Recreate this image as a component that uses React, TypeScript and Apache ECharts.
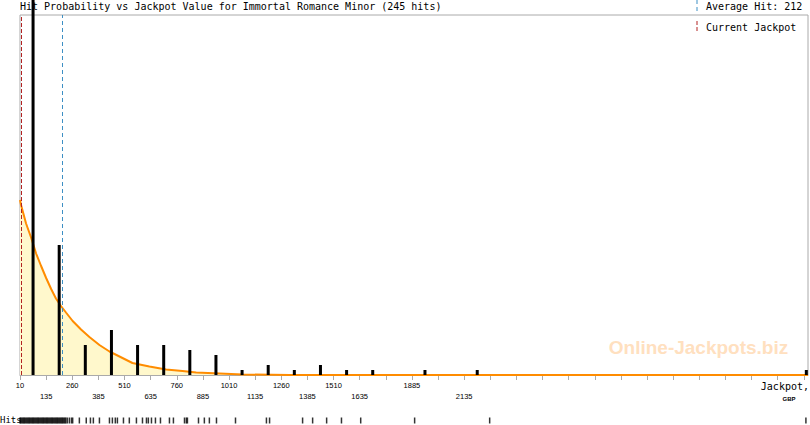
import { useEffect, useRef } from 'react';
import * as echarts from 'echarts';

const TITLE = 'Hit Probability vs Jackpot Value for Immortal Romance Minor (245 hits)';
const AVERAGE_HIT = 212;
const CURRENT_JACKPOT = 14;
const X_MIN = 10;
const X_MAX = 3780;
const TICK_STEP = 125;
const Y_MAX = 72;

// labels shown at each tick ('' = tick without label); shown labels alternate between two rows
const xTickLabels = ['10', '135', '260', '385', '510', '635', '760', '885', '1010', '1135', '1260', '1385', '1510', '1635', '', '1885', '', '2135'];

// histogram bars: bin centre (GBP) and number of hits
const binCenters = [72.5, 197.5, 322.5, 447.5, 572.5, 697.5, 822.5, 947.5, 1072.5, 1197.5, 1322.5, 1447.5, 1572.5, 1697.5, 1947.5, 2197.5, 3772];
const binCounts = [172, 26, 6, 9, 6, 6, 5, 4, 1, 2, 1, 2, 1, 1, 1, 1, 1];

// probability curve
const curveX = [10, 15, 39, 63, 87, 111, 135, 159, 182, 206, 230, 262, 302, 342, 390, 438, 486, 548, 629, 709, 787, 853, 965, 1075, 1300, 3780];
const curveY = [35, 34, 30.3, 27.5, 24.3, 21.8, 19.4, 17.2, 15.3, 13.8, 12.5, 10.8, 9.1, 7.6, 6, 4.7, 3.7, 2.4, 1.7, 1.1, 0.8, 0.5, 0.3, 0.1, 0, 0];

// individual hits (rug)
const hitValues = [
  10, 13, 18, 23, 28, 32, 37, 42, 47, 52, 56, 61, 66, 71, 75, 80, 85, 90, 95, 99, 104, 109, 114, 119, 123,
  128, 133, 138, 142, 147, 152, 157, 162, 166, 171, 176, 181, 186, 190, 195, 200, 205, 210, 214, 219, 224, 229,
  236, 246, 256, 262, 294, 327, 347, 361, 390, 438, 452, 466, 476, 505, 533, 567, 596, 615, 624, 639, 658, 682,
  725, 744, 797, 806, 811, 864, 892, 916, 950, 1041, 1189, 1204, 1362, 1410, 1477, 1548, 1640, 1898, 2257, 3770,
];

const MONO = '"DejaVu Sans Mono", monospace';

export default function App() {
  const ref = useRef<HTMLDivElement>(null);
  useEffect(() => {
    if (!ref.current) return;
    const chart = echarts.init(ref.current, null, { renderer: 'svg' });
    const labelRow: number[] = [];
    let shown = 0;
    xTickLabels.forEach((l) => {
      labelRow.push(l ? shown % 2 : -1);
      if (l) shown++;
    });
    const option: any = {
      animation: false,
      backgroundColor: '#ffffff',
      grid: [
        { left: 20, right: 2, top: 15, bottom: 50, show: true, borderColor: '#aaaaaa', borderWidth: 1 },
        { left: 20, right: 2, top: 417, height: 7, show: false },
      ],
      xAxis: [
        {
          type: 'value',
          gridIndex: 0,
          min: X_MIN,
          max: X_MAX,
          interval: TICK_STEP,
          splitLine: { show: false },
          axisLine: { show: true, onZero: false, lineStyle: { color: '#aaaaaa', width: 1 } },
          axisTick: { show: true, length: 5, lineStyle: { color: '#aaaaaa' } },
          axisLabel: {
            show: true,
            margin: 5,
            fontFamily: 'Liberation Sans',
            fontSize: 7.5,
            lineHeight: 11,
            color: '#000',
            showMinLabel: true,
            showMaxLabel: false,
            formatter: (val: number) => {
              const k = Math.round((val - X_MIN) / TICK_STEP);
              if (Math.abs((val - X_MIN) / TICK_STEP - k) > 1e-6) return '';
              const lab = xTickLabels[k];
              if (!lab) return '';
              return labelRow[k] === 0 ? lab : '\n' + lab;
            },
          },
        },
        { type: 'value', gridIndex: 1, min: X_MIN, max: X_MAX, show: false },
      ],
      yAxis: [
        { type: 'value', gridIndex: 0, min: 0, max: Y_MAX, show: false },
        { type: 'value', gridIndex: 1, min: 0, max: 1, show: false },
      ],
      series: [
        {
          type: 'line',
          xAxisIndex: 0,
          yAxisIndex: 0,
          data: curveX.map((x, i) => [x, curveY[i]]),
          symbol: 'none',
          lineStyle: { color: '#ff8c00', width: 2 },
          areaStyle: { color: '#fff8cc', opacity: 1 },
          z: 2,
          markLine: {
            silent: true,
            symbol: ['none', 'none'],
            label: { show: false },
            data: [
              { xAxis: CURRENT_JACKPOT, lineStyle: { color: '#b22222', width: 1, type: [4, 2] } },
              { xAxis: AVERAGE_HIT, lineStyle: { color: '#3d8fc4', width: 1, type: [4, 3] } },
            ],
          },
        },
        {
          type: 'custom',
          xAxisIndex: 0,
          yAxisIndex: 0,
          clip: false,
          z: 5,
          data: binCenters.map((x, i) => [x, binCounts[i]]),
          renderItem: (_params: any, api: any) => {
            const x = api.value(0);
            const c = api.value(1);
            const p0 = api.coord([x, 0]);
            const p1 = api.coord([x, c]);
            return {
              type: 'rect',
              shape: { x: p0[0] - 1.5, y: p1[1], width: 3, height: p0[1] - p1[1] },
              style: { fill: '#000000' },
            };
          },
        },
        {
          type: 'scatter',
          xAxisIndex: 1,
          yAxisIndex: 1,
          data: hitValues.map((v) => [v, 0.5]),
          symbol: 'rect',
          symbolSize: [1.5, 6],
          itemStyle: { color: '#000000' },
          z: 3,
        },
      ],
      graphic: [
        {
          type: 'text', x: 20, y: 6.5, z: 0,
          style: { text: TITLE, font: `10px ${MONO}`, fill: '#000', align: 'left', verticalAlign: 'middle' },
        },
        {
          type: 'line', z: 0,
          shape: { x1: 697, y1: 0, x2: 697, y2: 12 },
          style: { stroke: '#3d8fc4', lineWidth: 1, lineDash: [4, 3] },
        },
        {
          type: 'text', x: 706, y: 6.5,
          style: { text: 'Average Hit: ' + AVERAGE_HIT, font: `10px ${MONO}`, fill: '#000', align: 'left', verticalAlign: 'middle' },
        },
        {
          type: 'line',
          shape: { x1: 697, y1: 21, x2: 697, y2: 33 },
          style: { stroke: '#b22222', lineWidth: 1, lineDash: [4, 2] },
        },
        {
          type: 'text', x: 706, y: 27,
          style: { text: 'Current Jackpot', font: `10px ${MONO}`, fill: '#000', align: 'left', verticalAlign: 'middle' },
        },
        {
          type: 'text', x: 809, y: 386.5,
          style: { text: 'Jackpot,', font: `10px ${MONO}`, fill: '#000', align: 'right', verticalAlign: 'middle' },
        },
        {
          type: 'text', x: 789, y: 398.5,
          style: { text: 'GBP', font: 'bold 6px "Liberation Sans"', fill: '#000', align: 'center', verticalAlign: 'middle' },
        },
        {
          type: 'text', x: 0, y: 420,
          style: { text: 'Hits', font: `9px ${MONO}`, fill: '#000', align: 'left', verticalAlign: 'middle' },
        },
        {
          type: 'text', x: 698.5, y: 347.5,
          style: { text: 'Online-Jackpots.biz', font: 'bold 19px "Liberation Sans"', fill: '#ffe0bf', align: 'center', verticalAlign: 'middle' },
        },
      ],
    };
    chart.setOption(option);
    return () => chart.dispose();
  }, []);
  return <div ref={ref} style={{ position: 'absolute', left: 0, top: 0, width: 810, height: 425 }} />;
}
